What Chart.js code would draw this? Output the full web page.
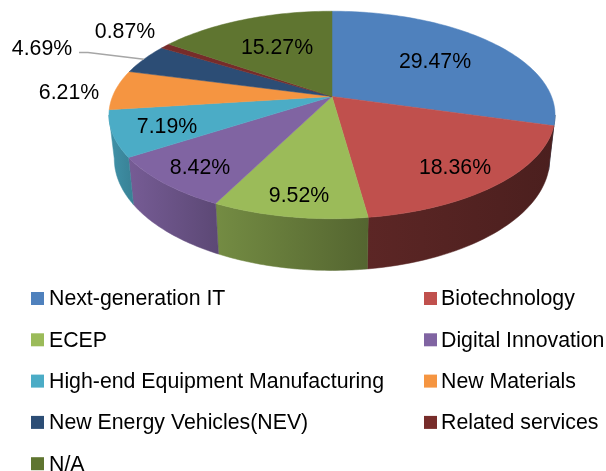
<!DOCTYPE html>
<html>
<head>
<meta charset="utf-8">
<title>Pie</title>
<script src="https://cdn.jsdelivr.net/npm/chart.js@4"></script>
<style>
    html, body { margin: 0; padding: 0; background: #ffffff; }
    canvas { display: block; }
</style>
</head>
<body>
<canvas id="grafico" width="606" height="471"></canvas>
<script>
const categories = [
    "Next-generation IT", "Biotechnology", "ECEP", "Digital Innovation",
    "High-end Equipment Manufacturing", "New Materials",
    "New Energy Vehicles(NEV)", "Related services", "N/A"
];
const shares = [29.47, 18.36, 9.52, 8.42, 7.19, 6.21, 4.69, 0.87, 15.27];
const shareLabels = ["29.47%", "18.36%", "9.52%", "8.42%", "7.19%", "6.21%", "4.69%", "0.87%", "15.27%"];
const colors = ["#4F81BD", "#C0504D", "#9BBB59", "#8064A2", "#4BACC6", "#F59541", "#2C4D75", "#772C2A", "#5F7530"];

// side wall shade of each slice, left end and right end
const sideShades = [[0.4, 0.4], [0.48, 0.39], [0.75, 0.54], [0.92, 0.72], [0.85, 0.75], [0.7, 0.7], [0.7, 0.7], [0.7, 0.7], [0.7, 0.7]];
// label centres, relative to the pie centre
const labelOffsets = [[103, -36], [123, 70], [-33, 98], [-132, 70], [-165, 29], [-263, -5], [-290, -49], [-207, -66], [-55, -50]];

const flatten = 0.4577;  // minor/major axis of the top face
const tilt = 0.178;      // perspective: the rear of the pie looks smaller
const depth = 42.5;      // wall height
const bottomShrink = 0.976;

// projects a point of the unit disc (canvas angle) on to the tilted pie
function project(arc, angle, f, lower) {
    const px = Math.cos(angle) * f;
    const py = Math.sin(angle) * f;
    const w = 1 - tilt * py;
    const r = arc.outerRadius;
    let x = r * px / w;
    let y = r * flatten * py / w;
    if (lower) {
        x *= bottomShrink;
        y += depth / w;
    }
    return { x: arc.x + x, y: arc.y + y };
}

function shade(hex, f) {
    const n = parseInt(hex.slice(1), 16);
    const c = [n >> 16, (n >> 8) & 255, n & 255].map(function (v) { return Math.round(v * f); });
    return "rgb(" + c.join(",") + ")";
}

const pie3d = {
    id: "pie3d",
    beforeDatasetsDraw(chart) {
        const ctx = chart.ctx;
        const arcs = chart.getDatasetMeta(0).data;
        const frontA = Math.asin(tilt);
        const frontB = Math.PI - frontA;

        // side walls, only the part facing the viewer
        arcs.forEach(function (arc, i) {
            const a = Math.max(arc.startAngle, frontA);
            const b = Math.min(arc.endAngle, frontB);
            if (b <= a) return;
            const steps = 40;
            const pts = [];
            for (let s = 0; s <= steps; s++) pts.push(project(arc, a + (b - a) * s / steps, 1, false));
            for (let s = steps; s >= 0; s--) pts.push(project(arc, a + (b - a) * s / steps, 1, true));
            const xs = pts.map(function (p) { return p.x; });
            const grad = ctx.createLinearGradient(Math.min.apply(null, xs), 0, Math.max.apply(null, xs), 0);
            grad.addColorStop(0, shade(colors[i], sideShades[i][0]));
            grad.addColorStop(1, shade(colors[i], sideShades[i][1]));
            ctx.beginPath();
            pts.forEach(function (p, n) { n ? ctx.lineTo(p.x, p.y) : ctx.moveTo(p.x, p.y); });
            ctx.closePath();
            ctx.fillStyle = grad;
            ctx.strokeStyle = grad;
            ctx.lineWidth = 0.5;
            ctx.fill();
            ctx.stroke();
        });

        // top face
        arcs.forEach(function (arc, i) {
            const steps = Math.max(4, Math.ceil((arc.endAngle - arc.startAngle) * 40));
            const c = project(arc, 0, 0, false);
            ctx.beginPath();
            ctx.moveTo(c.x, c.y);
            for (let s = 0; s <= steps; s++) {
                const p = project(arc, arc.startAngle + (arc.endAngle - arc.startAngle) * s / steps, 1, false);
                ctx.lineTo(p.x, p.y);
            }
            ctx.closePath();
            ctx.fillStyle = colors[i];
            ctx.strokeStyle = colors[i];
            ctx.lineWidth = 0.5;
            ctx.fill();
            ctx.stroke();
        });
        return false;
    },
    afterDraw(chart) {
        const ctx = chart.ctx;
        const arcs = chart.getDatasetMeta(0).data;

        // leader line of the 4.69% label
        const nev = arcs[6];
        const end = project(nev, (nev.startAngle + nev.endAngle) / 2, 1, false);
        ctx.beginPath();
        ctx.moveTo(79, 52.5);
        ctx.lineTo(88, 52.5);
        ctx.lineTo(end.x, end.y);
        ctx.strokeStyle = "#A6A6A6";
        ctx.lineWidth = 1.5;
        ctx.stroke();

        // value labels
        ctx.fillStyle = "#000000";
        ctx.font = "21.3px 'Liberation Sans'";
        ctx.textAlign = "center";
        ctx.textBaseline = "middle";
        shareLabels.forEach(function (text, i) {
            ctx.fillText(text, arcs[i].x + labelOffsets[i][0], arcs[i].y + labelOffsets[i][1] + 1.5);
        });

        // legend, two columns, row by row
        ctx.textAlign = "left";
        categories.forEach(function (name, i) {
            const x = i % 2 ? 424 : 31;
            const y = 298.5 + Math.floor(i / 2) * 41.3;
            ctx.fillStyle = colors[i];
            ctx.fillRect(x, y - 6.5, 13, 13);
            ctx.fillStyle = "#000000";
            ctx.fillText(name, i % 2 ? x + 17 : x + 18, y + 1);
        });
    }
};

document.addEventListener("DOMContentLoaded", function () {
    new Chart(document.getElementById("grafico"), {
        type: "pie",
        data: {
            labels: categories,
            datasets: [{ data: shares, backgroundColor: colors, borderWidth: 0 }]
        },
        options: {
            responsive: false,
            animation: false,
            radius: 219.5,
            layout: { padding: { left: 112, right: 54, top: 0, bottom: 278 } },
            plugins: { legend: { display: false }, tooltip: { enabled: false } }
        },
        plugins: [pie3d]
    });
});
</script>
</body>
</html>
